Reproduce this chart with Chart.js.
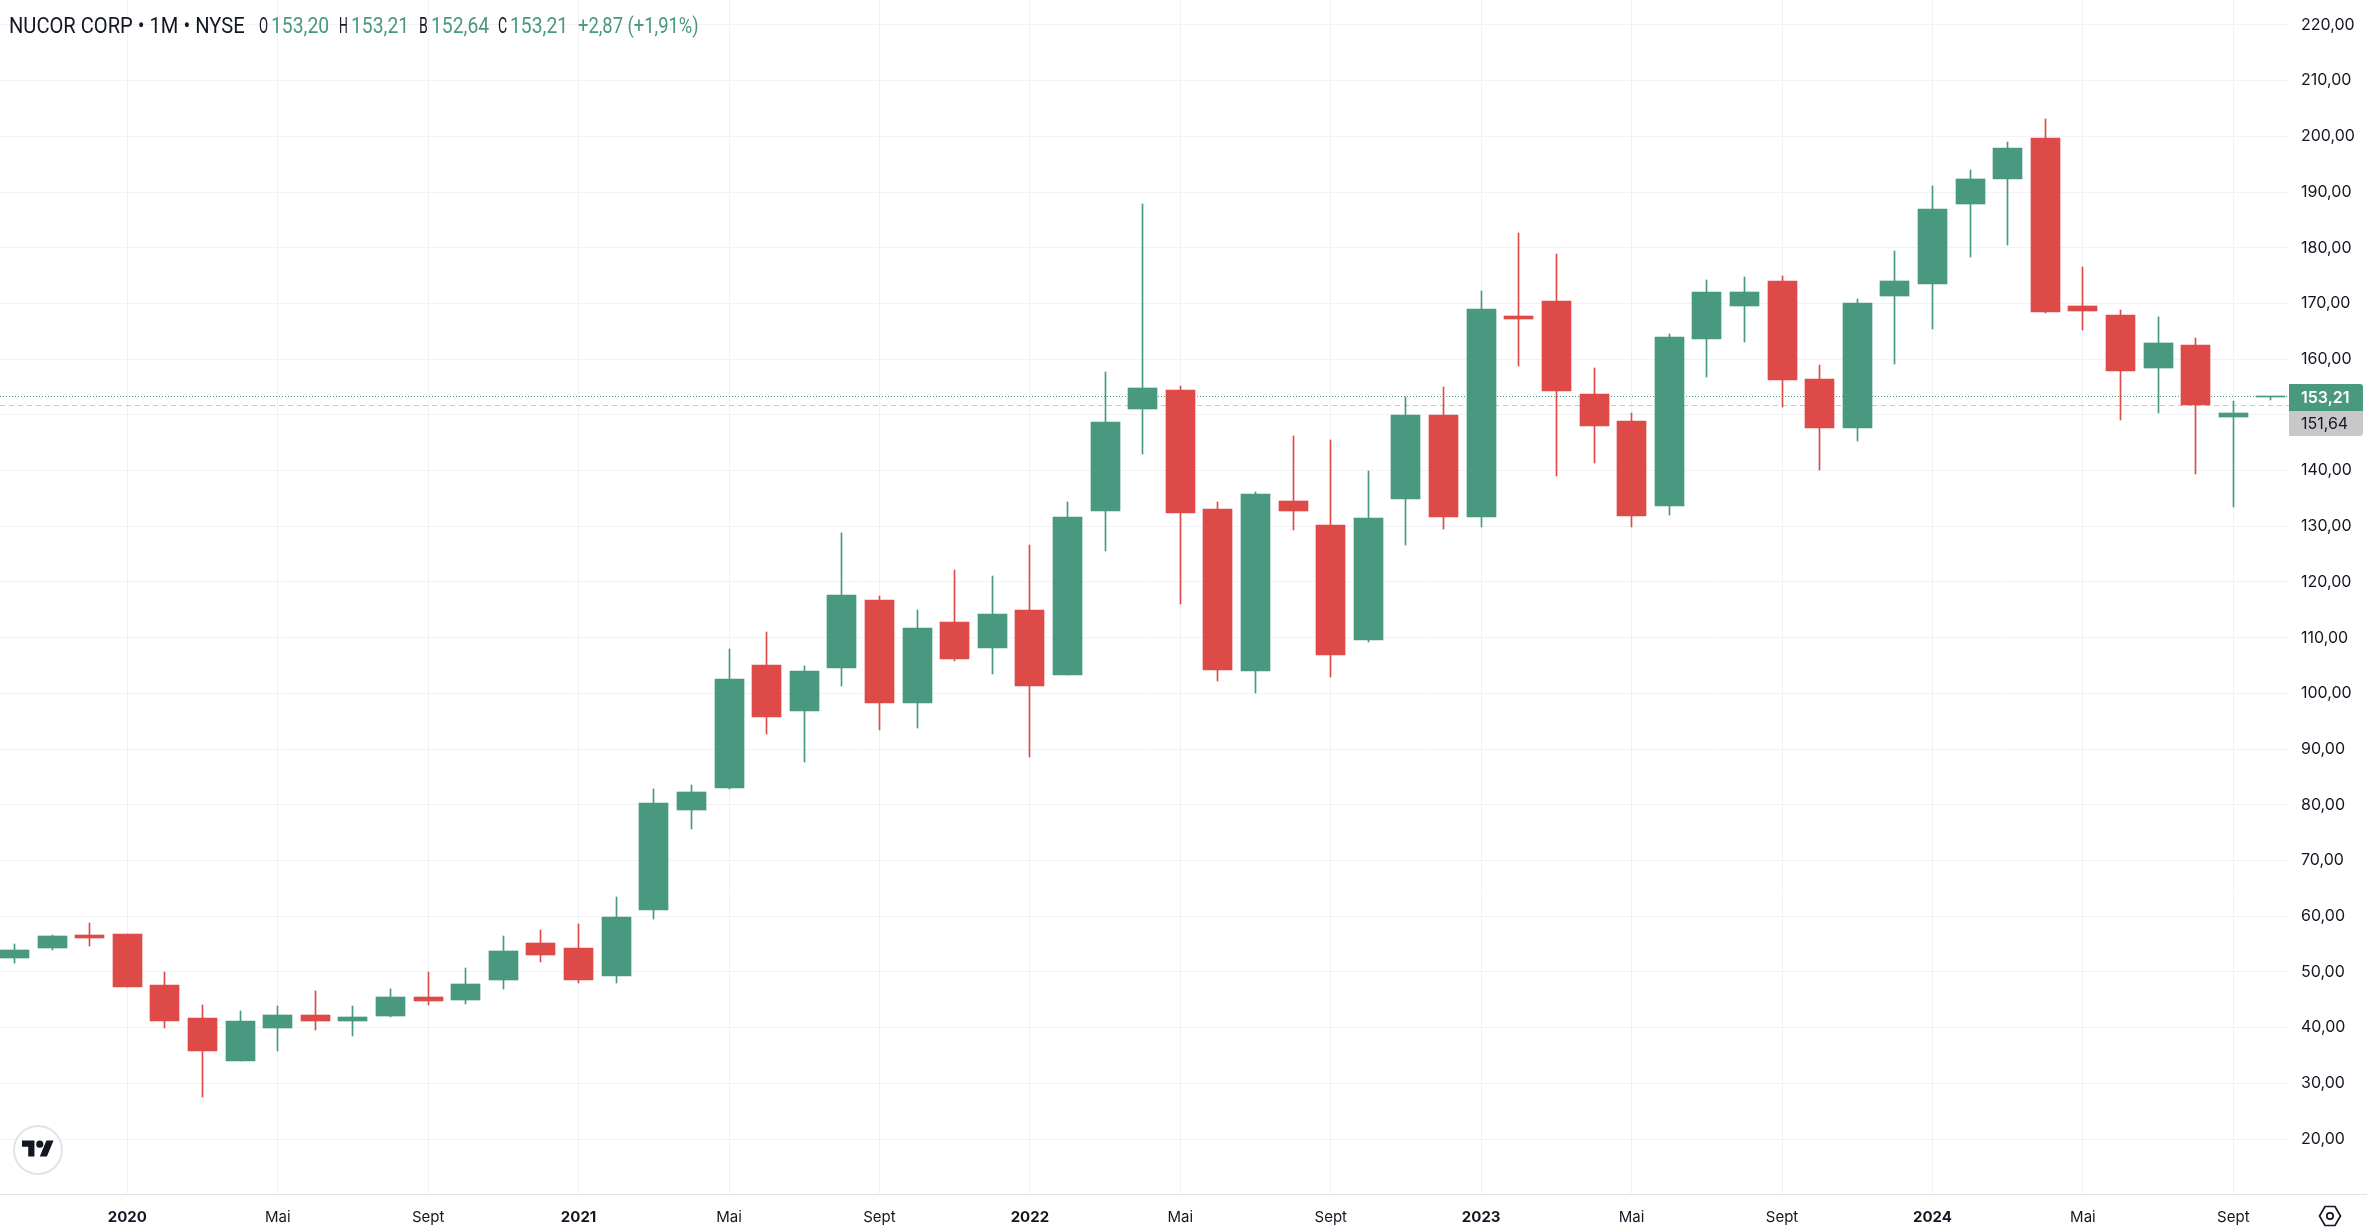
<!DOCTYPE html>
<html lang="en">

<head>
    <meta charset="utf-8">
    <title>NUCOR CORP 1M</title>
    <style>
        html, body { margin: 0; padding: 0; background: #fff; overflow: hidden; }
        #wrap { position: relative; width: 2367px; height: 1230px; }
        #chart { position: absolute; left: 0; top: 0; }
        .hd { position: absolute; top: 12px; line-height: 28px; white-space: nowrap; color: #131722;
              font-family: Roboto, sans-serif; font-size: 22px; transform-origin: left center; }
        .up { color: #489980; }
        #axisEnd { position: absolute; left: 2290px; top: 1194px; width: 77px; height: 1px; background: #e0e3eb; }
        #logo { position: absolute; left: 13px; top: 1125px; width: 46px; height: 46px; border: 2px solid #e0e3eb;
                border-radius: 50%; background: #fff; }
        #logo svg { position: absolute; left: 7px; top: 10px; }
        #gear { position: absolute; left: 2318px; top: 1204px; }
    </style>
</head>

<body>
    <div id="wrap">
        <canvas id="chart" width="2367" height="1230"></canvas>

        <!-- Legend line on top, data-w is the width each piece has to end up with -->
        <span class="hd" data-w="236" style="left:9px">NUCOR CORP • 1M • NYSE</span>
        <span class="hd" data-w="9" style="left:259px">O</span><span class="hd up" data-w="58" style="left:271px">153,20</span>
        <span class="hd" data-w="9" style="left:339px">H</span><span class="hd up" data-w="58" style="left:351px">153,21</span>
        <span class="hd" data-w="9" style="left:419px">B</span><span class="hd up" data-w="58" style="left:431px">152,64</span>
        <span class="hd" data-w="9" style="left:498px">C</span><span class="hd up" data-w="58" style="left:510px">153,21</span>
        <span class="hd up" data-w="121" style="left:578px">+2,87 (+1,91%)</span>

        <div id="axisEnd"></div>
        <div id="logo">
            <svg width="32" height="25" viewBox="0 0 36 28"><path fill="#131722" d="M14 22H7V11H0V4h14v18zM28 22h-8l7.5-18h8L28 22z"/><circle fill="#131722" cx="20" cy="8" r="4"/></svg>
        </div>
        <svg id="gear" width="24" height="24" viewBox="0 0 24 24" fill="none" stroke="#131722" stroke-width="1.7">
            <path d="M7 2.5h10l5.5 9.5-5.5 9.5H7L1.5 12z"/><circle cx="12" cy="12" r="3.2"/>
        </svg>
    </div>

    <script src="https://cdn.jsdelivr.net/npm/chart.js"></script>

    <script>
        // Monthly candles, Oct 2019 to Oct 2024
        const months = [
            '2019-10', '2019-11', '2019-12',
            '2020-01', '2020-02', '2020-03', '2020-04', '2020-05', '2020-06', '2020-07', '2020-08', '2020-09', '2020-10', '2020-11', '2020-12',
            '2021-01', '2021-02', '2021-03', '2021-04', '2021-05', '2021-06', '2021-07', '2021-08', '2021-09', '2021-10', '2021-11', '2021-12',
            '2022-01', '2022-02', '2022-03', '2022-04', '2022-05', '2022-06', '2022-07', '2022-08', '2022-09', '2022-10', '2022-11', '2022-12',
            '2023-01', '2023-02', '2023-03', '2023-04', '2023-05', '2023-06', '2023-07', '2023-08', '2023-09', '2023-10', '2023-11', '2023-12',
            '2024-01', '2024-02', '2024-03', '2024-04', '2024-05', '2024-06', '2024-07', '2024-08', '2024-09', '2024-10'
        ];
        const opens = [
            52.5, 54.3, 56.64,
            56.82, 47.66, 41.74, 34.02, 39.94, 42.28, 41.2, 42.1, 45.51, 44.97, 48.56, 55.2,
            54.3, 49.28, 61.12, 79.07, 83.02, 105.1, 96.84, 104.56, 116.77, 98.28, 112.82, 108.15,
            114.97, 103.31, 132.75, 151.05, 154.46, 133.1, 104.02, 134.54, 130.23, 109.59, 134.9, 149.98,
            131.67, 167.75, 170.44, 153.75, 148.9, 133.64, 163.62, 169.54, 174.03, 156.44, 147.64, 171.34,
            173.49, 187.85, 192.34, 199.7, 169.54, 167.93, 158.41, 162.54, 149.62, 153.2
        ];
        const highs = [
            55, 56.64, 58.79,
            56.82, 50, 44.07, 43, 43.89, 46.6, 43.89, 46.95, 50, 50.71, 56.46, 57.53,
            58.61, 63.46, 82.84, 83.56, 107.97, 111.02, 104.92, 128.79, 117.48, 114.97, 122.15, 121.07,
            126.64, 134.36, 157.69, 187.85, 155.18, 134.36, 136.16, 146.21, 145.49, 139.93, 153.2, 155,
            172.2, 182.65, 178.88, 158.41, 150.33, 164.52, 174.21, 174.75, 174.93, 158.95, 170.8, 179.42,
            191.08, 193.95, 198.98, 203.11, 176.54, 168.83, 167.57, 163.8, 152.49, 153.21
        ];
        const lows = [
            51.6, 53.94, 54.66,
            47.3, 39.94, 27.56, 34.02, 35.81, 39.58, 38.51, 41.92, 44.07, 44.25, 46.95, 51.79,
            48, 48, 59.5, 75.66, 82.84, 92.71, 87.69, 101.33, 93.43, 93.79, 105.81, 103.48,
            88.58, 103.31, 125.56, 142.97, 116.05, 102.23, 100.08, 129.34, 102.95, 109.23, 126.64, 129.52,
            129.87, 158.77, 139.03, 141.36, 129.87, 132.03, 156.8, 163.08, 151.41, 140.1, 145.31, 159.13,
            165.41, 178.34, 180.49, 168.29, 165.23, 149.08, 150.33, 139.39, 133.52, 152.64
        ];
        const closes = [
            53.94, 56.46, 56.1,
            47.3, 41.2, 35.81, 41.2, 42.28, 41.2, 41.92, 45.51, 44.79, 47.84, 53.77, 53.05,
            48.56, 59.87, 80.33, 82.3, 102.6, 95.76, 104.02, 117.66, 98.28, 111.74, 106.17, 114.25,
            101.33, 131.67, 148.72, 154.82, 132.38, 104.2, 135.8, 132.75, 106.9, 131.49, 149.98, 131.67,
            169, 167.21, 154.29, 148, 131.85, 163.98, 172.06, 172.06, 156.26, 147.64, 170.08, 174.03,
            186.95, 192.34, 197.9, 168.47, 168.65, 157.88, 162.9, 151.77, 150.34, 153.21
        ];

        // Axis ticks
        const priceTicks = [20, 30, 40, 50, 60, 70, 80, 90, 100, 110, 120, 130, 140, 150, 160, 170, 180, 190, 200, 210, 220];
        const timeTickMonths = ['2020-01', '2020-05', '2020-09', '2021-01', '2021-05', '2021-09', '2022-01', '2022-05', '2022-09', '2023-01', '2023-05', '2023-09', '2024-01', '2024-05', '2024-09'];
        const timeTickLabels = ['2020', 'Mai', 'Sept', '2021', 'Mai', 'Sept', '2022', 'Mai', 'Sept', '2023', 'Mai', 'Sept', '2024', 'Mai', 'Sept'];

        // Price lines on the right
        const lastPrice = 153.21;
        const refPrice = 151.64;

        const GREEN = '#489980';
        const RED = '#de4a48';
        const GRID = '#f2f2f4';
        const TEXT = '#131722';
        const FONT = 'Inter';

        const xMin = -0.385;
        const xMax = 60.48;

        function candleColor(ctx) {
            return closes[ctx.dataIndex] >= opens[ctx.dataIndex] ? GREEN : RED;
        }

        function formatPrice(v) {
            return v.toFixed(2).replace('.', ',');
        }

        // No extra room for labels at the ends, the plot has to fill the canvas
        function noPadding(scale) {
            scale.paddingTop = 0;
            scale.paddingBottom = 0;
            scale.paddingLeft = 0;
            scale.paddingRight = 0;
        }

        // Squeeze the legend pieces to their widths, the original uses a narrow font
        document.querySelectorAll('.hd').forEach(el => {
            el.style.transform = 'scaleX(' + (el.dataset.w / el.offsetWidth) + ')';
        });

        // Snap bars and price lines to whole pixels so they stay crisp like the original
        const snapPlugin = {
            id: 'snap',
            afterDatasetsUpdate(chart) {
                chart.getSortedVisibleDatasetMetas().forEach(meta => {
                    meta.data.forEach(el => {
                        if (meta.type === 'bar') {
                            el.x = Math.round(el.x - 0.5) + 0.5;
                            const top = Math.round(Math.min(el.y, el.base));
                            const bottom = Math.max(top + 1, Math.round(Math.max(el.y, el.base)));
                            el.y = top;
                            el.base = bottom;
                        } else {
                            el.y = Math.floor(el.y) + 0.5;
                        }
                    });
                });
            }
        };

        // Price tags sitting on the axis
        const tagPlugin = {
            id: 'tags',
            afterDraw(chart) {
                const c = chart.ctx;
                const y = chart.scales.y.getPixelForValue(lastPrice);
                const left = chart.chartArea.right;
                const top = Math.round(y) - 13;
                c.save();
                c.fillStyle = '#c8c8c8';
                c.beginPath();
                c.roundRect(left, top + 27, 74, 25, [0, 0, 3, 0]);
                c.fill();
                c.fillStyle = GREEN;
                c.beginPath();
                c.roundRect(left, top, 74, 27, [0, 3, 0, 0]);
                c.fill();
                c.textBaseline = 'middle';
                c.textAlign = 'left';
                c.font = '600 16px ' + FONT;
                c.fillStyle = '#fff';
                c.fillText(formatPrice(lastPrice), left + 12, top + 14);
                c.font = '400 16px ' + FONT;
                c.fillStyle = TEXT;
                c.fillText(formatPrice(refPrice), left + 12, top + 40);
                c.restore();
            }
        };

        new Chart(document.getElementById('chart').getContext('2d'), {
            type: 'bar',
            plugins: [snapPlugin, tagPlugin],
            data: {
                datasets: [
                    {
                        // Bodies, open to close
                        label: 'Body',
                        order: 1,
                        barThickness: 29,
                        minBarLength: 1,
                        grouped: false,
                        backgroundColor: candleColor,
                        data: months.map((m, i) => ({ x: i, y: [opens[i], closes[i]] }))
                    },
                    {
                        // Wicks, low to high
                        label: 'Wick',
                        order: 2,
                        barThickness: 1,
                        grouped: false,
                        backgroundColor: candleColor,
                        data: months.map((m, i) => ({ x: i, y: [lows[i], highs[i]] }))
                    },
                    {
                        type: 'line',
                        label: 'Last',
                        order: 3,
                        borderColor: GREEN,
                        borderWidth: 1,
                        borderDash: [1, 2],
                        pointRadius: 0,
                        data: [{ x: xMin, y: lastPrice }, { x: xMax, y: lastPrice }]
                    },
                    {
                        type: 'line',
                        label: 'Ref',
                        order: 4,
                        borderColor: '#c8c8c8',
                        borderWidth: 1,
                        borderDash: [5, 4],
                        pointRadius: 0,
                        data: [{ x: xMin, y: refPrice }, { x: xMax, y: refPrice }]
                    }
                ]
            },
            options: {
                responsive: false,
                animation: false,
                layout: { autoPadding: false, padding: 0 },
                plugins: { legend: { display: false }, tooltip: { enabled: false } },
                scales: {
                    x: {
                        type: 'linear',
                        offset: false,
                        min: xMin,
                        max: xMax,
                        afterFit: scale => { scale.height = 36; noPadding(scale); },
                        afterBuildTicks: scale => {
                            scale.ticks = timeTickMonths.map(m => ({ value: months.indexOf(m) }));
                        },
                        grid: { color: GRID, drawTicks: false, offset: false },
                        border: { color: '#e0e3eb' },
                        ticks: {
                            autoSkip: false,
                            maxRotation: 0,
                            padding: 14,
                            color: TEXT,
                            font: ctx => ({
                                family: FONT,
                                size: 15,
                                weight: ctx.tick && /^\d/.test(timeTickLabels[timeTickMonths.indexOf(months[ctx.tick.value])]) ? '700' : '400'
                            }),
                            callback: v => timeTickLabels[timeTickMonths.indexOf(months[v])]
                        }
                    },
                    y: {
                        position: 'right',
                        min: 10.14,
                        max: 224.47,
                        afterFit: scale => { scale.width = 78; noPadding(scale); },
                        afterBuildTicks: scale => {
                            scale.ticks = priceTicks.map(v => ({ value: v }));
                        },
                        grid: { color: GRID, drawTicks: false },
                        border: { display: false },
                        ticks: {
                            autoSkip: false,
                            padding: 12,
                            color: TEXT,
                            font: { family: FONT, size: 16 },
                            callback: v => formatPrice(v)
                        }
                    }
                }
            }
        });
    </script>
</body>

</html>
